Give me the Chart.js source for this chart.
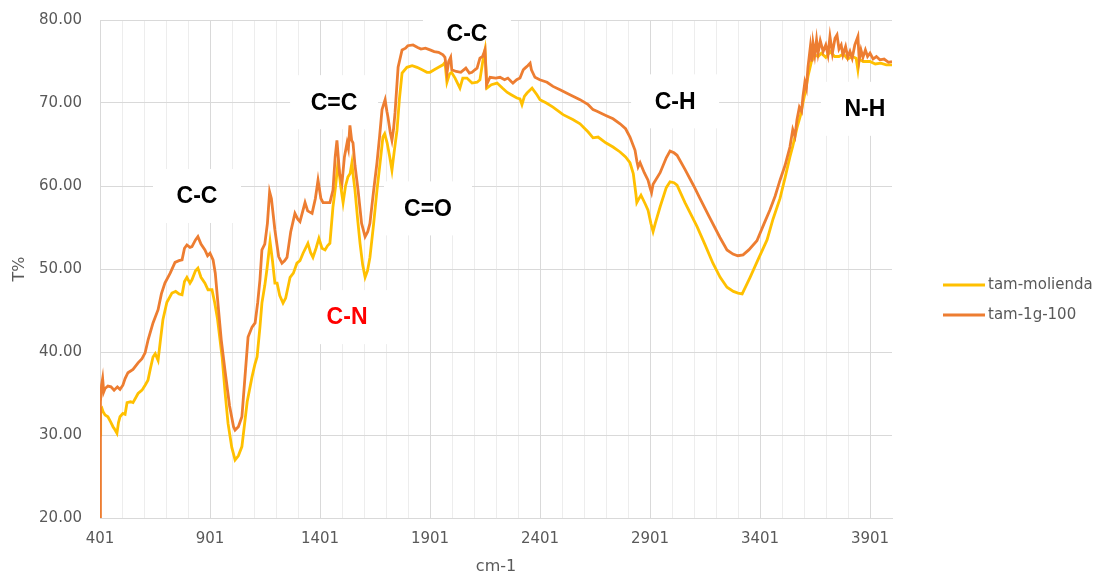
<!DOCTYPE html>
<html>
<head>
<meta charset="utf-8">
<script src="https://cdn.jsdelivr.net/npm/chart.js@4.4.0/dist/chart.umd.min.js"></script>
<style>
    html, body { margin: 0; padding: 0; background: #fff; }
</style>
</head>
<body>
<canvas id="ftirChart" width="1098" height="573"></canvas>
<script>
// FTIR spectra - tam-molienda vs tam-1g-100
const seriesNames = ['tam-molienda', 'tam-1g-100'];

// tam-molienda (yellow)
const molWavenumber = [401, 404, 410, 415, 424, 437, 451, 460, 465, 478, 485, 492, 505, 515, 524, 540, 551, 574, 592, 606, 619, 630, 642, 652, 665, 676, 687, 705, 728, 745, 760, 774, 785, 796, 810, 819, 835, 846, 860, 878, 892, 910, 922, 935, 956, 970, 983, 1000, 1015, 1030, 1046, 1070, 1092, 1105, 1115, 1128, 1137, 1150, 1160, 1174, 1185, 1196, 1206, 1218, 1233, 1245, 1265, 1280, 1296, 1310, 1324, 1346, 1358, 1369, 1383, 1396, 1410, 1424, 1435, 1446, 1460, 1472, 1483, 1495, 1506, 1517, 1528, 1538, 1546, 1553, 1560, 1572, 1583, 1595, 1606, 1617, 1628, 1645, 1660, 1675, 1687, 1695, 1706, 1718, 1728, 1740, 1751, 1762, 1774, 1796, 1820, 1842, 1865, 1887, 1901, 1920, 1940, 1960, 1969, 1978, 1990, 1999, 2015, 2037, 2050, 2069, 2092, 2115, 2128, 2142, 2151, 2160, 2180, 2206, 2230, 2251, 2270, 2296, 2310, 2319, 2330, 2342, 2365, 2387, 2401, 2430, 2460, 2506, 2550, 2583, 2620, 2642, 2665, 2700, 2733, 2765, 2790, 2810, 2825, 2837, 2841, 2847, 2860, 2880, 2892, 2905, 2915, 2925, 2947, 2975, 2992, 3010, 3024, 3060, 3115, 3150, 3187, 3220, 3251, 3280, 3301, 3320, 3356, 3390, 3433, 3460, 3492, 3515, 3537, 3550, 3569, 3585, 3596, 3608, 3619, 3635, 3650, 3665, 3680, 3700, 3720, 3740, 3760, 3780, 3800, 3820, 3838, 3846, 3852, 3870, 3901, 3925, 3950, 3975, 4001];
const molTransmit = [30.0, 33.0, 33.2, 32.8, 32.4, 32.2, 31.5, 31.0, 30.8, 30.2, 31.5, 32.2, 32.6, 32.5, 33.9, 34.0, 33.9, 35.0, 35.4, 36.0, 36.6, 38.0, 39.4, 39.8, 39.0, 41.5, 43.9, 46.0, 47.1, 47.3, 47.0, 46.9, 48.5, 49.0, 48.3, 48.7, 49.8, 50.1, 49.0, 48.3, 47.5, 47.5, 46.0, 44.0, 39.4, 35.0, 31.4, 28.5, 27.0, 27.5, 28.6, 34.0, 37.0, 38.5, 39.4, 43.0, 45.9, 48.0, 50.0, 53.3, 51.0, 48.3, 48.3, 46.8, 45.9, 46.5, 49.0, 49.5, 50.7, 51.0, 51.9, 53.1, 52.0, 51.4, 52.5, 53.7, 52.5, 52.3, 52.8, 53.1, 57.5, 60.0, 62.9, 60.0, 58.0, 60.0, 61.1, 61.5, 62.8, 61.0, 59.5, 56.0, 53.1, 50.5, 49.0, 49.8, 51.4, 55.5, 59.5, 63.0, 65.9, 66.3, 65.2, 63.5, 61.9, 64.5, 66.7, 70.5, 73.6, 74.3, 74.5, 74.3, 74.0, 73.7, 73.7, 74.0, 74.3, 74.6, 74.9, 72.5, 73.5, 73.7, 73.0, 71.8, 73.0, 73.0, 72.4, 72.5, 72.8, 75.2, 76.4, 71.8, 72.2, 72.4, 71.8, 71.3, 71.0, 70.6, 70.5, 69.8, 70.8, 71.2, 71.8, 71.0, 70.4, 70.0, 69.5, 68.6, 68.0, 67.5, 66.5, 65.8, 65.9, 65.2, 64.7, 64.1, 63.5, 62.8, 61.5, 59.0, 58.0, 58.3, 58.9, 57.8, 57.1, 55.5, 54.5, 55.5, 57.5, 59.8, 60.5, 60.4, 60.1, 58.0, 55.1, 53.0, 50.7, 49.0, 47.8, 47.3, 47.1, 47.0, 49.0, 51.0, 53.5, 56.0, 58.5, 61.0, 63.5, 64.8, 67.0, 68.5, 70.0, 71.5, 73.2, 75.0, 75.8, 75.6, 76.0, 75.5, 76.2, 75.6, 75.6, 75.9, 75.3, 75.6, 75.4, 74.0, 75.3, 75.0, 75.0, 74.7, 74.8, 74.6, 74.6];

// tam-1g-100 (orange)
const gWavenumber = [401, 403, 408, 413, 418, 424, 437, 451, 465, 480, 492, 505, 515, 528, 551, 574, 592, 606, 620, 642, 665, 680, 696, 720, 742, 760, 774, 785, 796, 810, 819, 835, 846, 860, 878, 890, 901, 915, 925, 937, 952, 969, 990, 1008, 1015, 1030, 1046, 1060, 1074, 1092, 1106, 1118, 1128, 1137, 1150, 1162, 1172, 1180, 1196, 1213, 1228, 1240, 1251, 1268, 1287, 1300, 1310, 1333, 1345, 1365, 1380, 1392, 1405, 1415, 1446, 1460, 1470, 1478, 1490, 1501, 1512, 1524, 1530, 1537, 1545, 1551, 1560, 1574, 1590, 1606, 1618, 1628, 1645, 1660, 1672, 1683, 1697, 1705, 1710, 1720, 1728, 1735, 1742, 1756, 1774, 1790, 1800, 1824, 1845, 1860, 1880, 1901, 1920, 1940, 1960, 1969, 1978, 1986, 1995, 2000, 2020, 2041, 2064, 2080, 2092, 2105, 2115, 2128, 2140, 2151, 2158, 2174, 2200, 2219, 2240, 2255, 2270, 2278, 2295, 2310, 2325, 2333, 2345, 2356, 2362, 2378, 2400, 2433, 2460, 2492, 2537, 2583, 2620, 2642, 2660, 2700, 2733, 2765, 2790, 2810, 2833, 2842, 2847, 2856, 2875, 2892, 2901, 2908, 2915, 2947, 2975, 2992, 3010, 3024, 3060, 3100, 3128, 3170, 3219, 3251, 3278, 3300, 3324, 3350, 3387, 3420, 3446, 3470, 3492, 3515, 3537, 3550, 3560, 3569, 3580, 3590, 3596, 3605, 3612, 3619, 3630, 3637, 3642, 3650, 3658, 3665, 3675, 3688, 3700, 3710, 3719, 3730, 3742, 3751, 3760, 3770, 3778, 3790, 3800, 3810, 3820, 3832, 3846, 3852, 3860, 3869, 3880, 3890, 3901, 3915, 3930, 3946, 3965, 3985, 4001];
const gTransmit = [20.0, 34.0, 36.0, 36.8, 35.2, 35.6, 35.9, 35.8, 35.4, 35.8, 35.5, 36.0, 36.8, 37.5, 37.9, 38.7, 39.2, 39.9, 41.5, 43.5, 45.1, 47.0, 48.3, 49.5, 50.8, 51.0, 51.1, 52.5, 52.9, 52.6, 52.7, 53.5, 53.9, 53.0, 52.3, 51.6, 51.9, 51.1, 49.5, 45.9, 41.5, 37.8, 33.5, 31.0, 30.6, 31.0, 32.2, 37.0, 41.8, 43.0, 43.5, 46.0, 48.7, 52.3, 53.0, 55.5, 59.3, 58.5, 54.7, 51.5, 50.7, 51.0, 51.4, 54.5, 56.7, 56.0, 55.7, 58.0, 57.0, 56.7, 58.5, 60.7, 58.5, 58.0, 58.0, 59.5, 63.5, 65.5, 61.5, 60.4, 63.5, 65.2, 64.5, 67.3, 65.5, 65.2, 62.5, 59.5, 55.5, 53.9, 54.5, 55.5, 59.5, 62.8, 66.0, 69.2, 70.4, 69.0, 68.3, 66.5, 65.5, 66.8, 68.8, 74.3, 76.4, 76.6, 76.9, 77.0, 76.7, 76.5, 76.6, 76.4, 76.2, 76.1, 75.8, 75.5, 73.6, 75.0, 75.5, 74.0, 73.8, 73.7, 74.2, 73.6, 73.7, 74.0, 74.2, 75.4, 75.6, 76.4, 72.2, 73.1, 73.0, 73.1, 72.8, 73.0, 72.6, 72.4, 72.8, 73.0, 74.0, 74.2, 74.5, 74.8, 74.0, 73.1, 72.8, 72.5, 72.0, 71.6, 71.0, 70.4, 69.8, 69.2, 69.0, 68.5, 68.1, 67.5, 66.9, 65.9, 64.3, 62.9, 62.3, 62.8, 61.6, 60.7, 59.8, 59.2, 60.2, 61.6, 63.4, 64.2, 64.0, 63.7, 62.0, 60.0, 58.5, 56.3, 53.8, 52.3, 51.8, 51.6, 51.7, 52.3, 53.4, 55.5, 57.1, 58.8, 60.7, 62.5, 64.7, 66.8, 66.0, 68.0, 69.5, 69.0, 70.7, 72.5, 71.8, 74.3, 76.8, 75.0, 77.2, 75.8, 77.6, 76.0, 77.5, 76.2, 77.0, 75.8, 78.0, 76.0, 77.8, 78.2, 76.5, 77.0, 75.8, 76.8, 75.5, 76.2, 75.4, 77.0, 78.0, 75.2, 76.4, 75.5, 76.4, 75.6, 76.0, 75.3, 75.6, 75.2, 75.3, 74.9, 75.0];

// band assignments written on the chart
const bandText = ['C-C', 'C=C', 'C-C', 'C=O', 'C-N', 'C-H', 'N-H'];
const bandWn = [842, 1465, 2069, 1892, 1524, 3015, 3878];
const bandT = [58.8, 70.1, 78.4, 57.3, 44.2, 70.2, 69.3];

// axis ticks
const xGridStep = 100;
const xLabelStep = 500;
const yTickStep = 10;

const colors = ['#FFC000', '#ED7D31'];

function toPoints(xs, ys) {
    return xs.map(function(w, i) { return { x: w, y: ys[i] }; });
}

const bandLabelPlugin = {
    id: 'bandLabels',
    beforeDatasetsDraw: function(chart) {
        const ctx = chart.ctx;
        const xs = chart.scales.x, ys = chart.scales.y;
        ctx.save();
        ctx.font = 'bold 23px "Liberation Sans", Arial, sans-serif';
        ctx.textAlign = 'center';
        ctx.textBaseline = 'middle';
        bandText.forEach(function(t, i) {
            const px = xs.getPixelForValue(bandWn[i]);
            const py = ys.getPixelForValue(bandT[i]);
            ctx.fillStyle = '#ffffff';
            ctx.fillRect(px - 44, py - 27, 88, 54);
            ctx.fillStyle = t === 'C-N' ? '#FF0000' : '#000000';
            ctx.fillText(t, px, py + 1);
        });
        ctx.restore();
    }
};

// legend drawn at the right, Excel style
const sideLegendPlugin = {
    id: 'sideLegend',
    afterDraw: function(chart) {
        const ctx = chart.ctx;
        ctx.save();
        ctx.font = '15px "DejaVu Sans", sans-serif';
        ctx.textBaseline = 'middle';
        chart.data.datasets.forEach(function(ds, i) {
            const y = 285 + i * 30;
            ctx.strokeStyle = ds.borderColor;
            ctx.lineWidth = 3;
            ctx.beginPath();
            ctx.moveTo(943, y);
            ctx.lineTo(985, y);
            ctx.stroke();
            ctx.fillStyle = '#595959';
            ctx.fillText(ds.label, 988, y);
        });
        ctx.restore();
    }
};

function renderChart(ctx) {
    new Chart(ctx, {
        type: 'line',
        data: {
            datasets: [{
                label: seriesNames[0],
                data: toPoints(molWavenumber, molTransmit),
                borderColor: colors[0],
                borderWidth: 2.8,
                pointRadius: 0,
                tension: 0,
                fill: false,
                order: 1
            }, {
                label: seriesNames[1],
                data: toPoints(gWavenumber, gTransmit),
                borderColor: colors[1],
                borderWidth: 2.8,
                pointRadius: 0,
                tension: 0,
                fill: false,
                order: 0
            }]
        },
        options: {
            responsive: false,
            animation: false,
            layout: { padding: { left: 0, right: 206, top: 20, bottom: 0 } },
            plugins: {
                legend: { display: false },
                tooltip: { enabled: false }
            },
            scales: {
                x: {
                    type: 'linear',
                    min: 401,
                    max: 4001,
                    afterBuildTicks: function(axis) {
                        const t = [];
                        for (let v = 401; v < 4001; v += xGridStep) t.push({ value: v });
                        axis.ticks = t;
                    },
                    afterFit: function(axis) { axis.height = 55; },
                    ticks: {
                        autoSkip: false,
                        maxRotation: 0,
                        padding: 12,
                        color: '#595959',
                        font: { family: '"DejaVu Sans", sans-serif', size: 15 },
                        callback: function(v) { return (v - 401) % xLabelStep === 0 ? String(v) : ''; }
                    },
                    grid: {
                        drawTicks: false,
                        color: function(c) {
                            return c.tick && (c.tick.value - 401) % xLabelStep === 0 ? '#d9d9d9' : '#ededed';
                        }
                    },
                    border: { color: '#d9d9d9' },
                    title: {
                        display: true,
                        text: 'cm-1',
                        color: '#595959',
                        font: { family: '"DejaVu Sans", sans-serif', size: 16 },
                        padding: { top: 0, bottom: -3 }
                    }
                },
                y: {
                    min: 20,
                    max: 80,
                    afterFit: function(axis) {
                        axis.width = 100;
                        axis.paddingTop = 0;
                        axis.paddingBottom = 0;
                    },
                    ticks: {
                        stepSize: yTickStep,
                        padding: 18,
                        color: '#595959',
                        font: { family: '"DejaVu Sans", sans-serif', size: 15 },
                        callback: function(v) { return v.toFixed(2); }
                    },
                    grid: { drawTicks: false, color: '#d9d9d9' },
                    border: { color: '#d9d9d9' },
                    title: {
                        display: true,
                        text: 'T%',
                        color: '#595959',
                        font: { family: '"DejaVu Sans", sans-serif', size: 16 },
                        padding: { top: 10, bottom: 0 }
                    }
                }
            }
        },
        plugins: [bandLabelPlugin, sideLegendPlugin]
    });
}

document.addEventListener('DOMContentLoaded', function() {
    renderChart(document.getElementById('ftirChart').getContext('2d'));
});
</script>
</body>
</html>
